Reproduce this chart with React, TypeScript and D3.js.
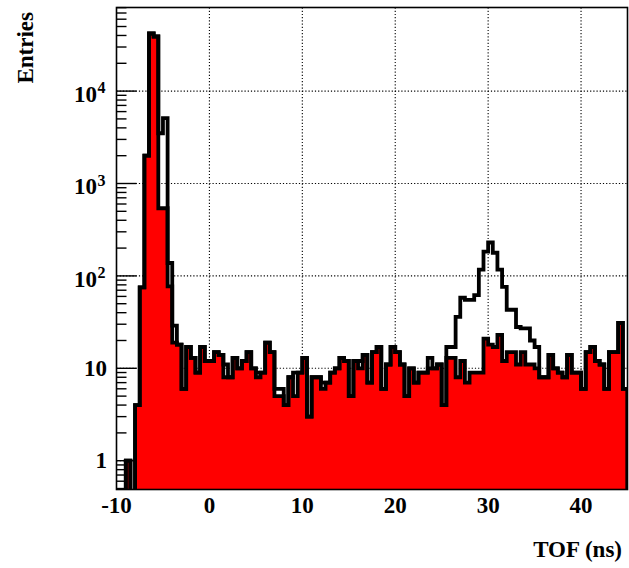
import React from 'react';
import * as d3 from 'd3';

// Time-of-flight histogram: 0.5 ns bins starting at -10 ns
const binStart = -10;
const binWidth = 0.5;

// All entries (black outline)
const allCounts = [
  0, 0, 1, 0, 4, 75, 2000, 42000, 39000, 3500,
  5100, 138, 29, 18, 6, 17, 13, 9, 17, 12,
  12, 15, 14, 11, 8, 13, 10, 12, 15, 10,
  9, 9, 19, 15, 6, 6, 4, 8, 9, 9,
  13, 3, 8, 8, 7, 7, 9, 10, 13, 12,
  5, 12, 12, 14, 7, 15, 17, 6, 11, 17,
  15, 11, 5, 10, 7, 9, 9, 13, 10, 11,
  4, 17, 17, 36, 58, 55, 55, 62, 117, 183,
  230, 178, 117, 76, 43, 43, 28, 27, 27, 20,
  17, 8, 8, 14, 10, 9, 8, 14, 9, 9,
  6, 15, 17, 12, 11, 6, 15, 15, 31, 6,
];

// Selected entries (red filled)
const selectedCounts = [
  0, 0, 1, 0, 4, 75, 2000, 42000, 39000, 540,
  540, 77, 19, 18, 6, 17, 13, 9, 17, 12,
  12, 15, 14, 8, 8, 13, 10, 12, 15, 10,
  8, 9, 19, 15, 5, 5, 4, 8, 5, 9,
  13, 3, 8, 8, 6, 7, 9, 10, 13, 12,
  5, 12, 10, 14, 7, 15, 17, 6, 11, 17,
  15, 11, 5, 10, 7, 9, 9, 10, 10, 11,
  4, 13, 13, 8, 12, 7, 9, 9, 9, 21,
  18, 17, 23, 12, 15, 15, 11, 15, 11, 11,
  10, 8, 8, 14, 10, 9, 8, 14, 9, 9,
  6, 15, 17, 12, 11, 6, 15, 15, 31, 6,
];

const xDomain = [-10, 45];
const yDomain = [0.488, 80300];
const xTickValues = [-10, 0, 10, 20, 30, 40];
const xGridValues = [0, 10, 20, 30, 40];
const yTickValues = [1, 10, 100, 1000, 10000];
const yTickBases = ['1', '10', '10', '10', '10'];
const yTickExponents = ['', '', '2', '3', '4'];

const W = 629;
const H = 568;
const left = 116.5;
const right = 627.5;
const top = 7.5;
const bottom = 489.5;
const FONT = "'Liberation Serif', 'Times New Roman', serif";
const HIST_LINE = 3.8;

export default function App() {
  const x = d3.scaleLinear().domain(xDomain).range([left, right]);
  const y = d3.scaleLog().domain(yDomain).range([bottom, top]);
  const floorY = bottom + 8;

  const stepPoints = (counts: number[]): [number, number][] => {
    const pts: [number, number][] = [[x(binStart), floorY]];
    counts.forEach((c, i) => {
      const yv = c > 0 ? y(c) : floorY;
      pts.push([x(binStart + i * binWidth), yv]);
      pts.push([x(binStart + (i + 1) * binWidth), yv]);
    });
    pts.push([x(binStart + counts.length * binWidth), floorY]);
    return pts;
  };

  const line = d3.line<[number, number]>();
  const area = d3
    .area<[number, number]>()
    .x((d) => d[0])
    .y1((d) => d[1])
    .y0(floorY);

  const selPts = stepPoints(selectedCounts);
  const allPts = stepPoints(allCounts);

  const minorTicks: number[] = [];
  for (let e = -1; e <= 4; e++) {
    for (let m = 2; m <= 9; m++) {
      const v = m * Math.pow(10, e);
      if (v >= yDomain[0] && v <= yDomain[1]) minorTicks.push(v);
    }
  }

  return (
    <svg
      width={W}
      height={H}
      viewBox={`0 0 ${W} ${H}`}
      style={{ position: 'absolute', left: 0, top: 0, background: '#fff' }}
    >
      <defs>
        <clipPath id="plotClip">
          <rect x={left} y={top} width={right - left} height={bottom - top} />
        </clipPath>
      </defs>
      <rect x={0} y={0} width={W} height={H} fill="#fff" />

      {/* dotted grid */}
      <g stroke="#000" strokeWidth={1.1} strokeDasharray="1.2 2">
        {xGridValues.map((v) => (
          <line key={`gx${v}`} x1={x(v)} x2={x(v)} y1={top} y2={bottom} />
        ))}
        {yTickValues.map((v) => (
          <line key={`gy${v}`} x1={left} x2={right} y1={y(v)} y2={y(v)} />
        ))}
      </g>

      {/* y axis ticks */}
      <g stroke="#000" strokeWidth={1.4}>
        {yTickValues.map((v) => (
          <line key={`ty${v}`} x1={left} x2={left + 20} y1={y(v)} y2={y(v)} />
        ))}
        {minorTicks.map((v) => (
          <line key={`tm${v}`} x1={left} x2={left + 10} y1={y(v)} y2={y(v)} />
        ))}
      </g>

      {/* histograms */}
      <g clipPath="url(#plotClip)">
        <path d={area(selPts) || ''} fill="#ff0000" stroke="none" />
        <path
          d={line(selPts) || ''}
          fill="none"
          stroke="#000"
          strokeWidth={HIST_LINE}
          strokeLinejoin="miter"
        />
        <path
          d={line(allPts) || ''}
          fill="none"
          stroke="#000"
          strokeWidth={HIST_LINE}
          strokeLinejoin="miter"
        />
      </g>

      {/* frame */}
      <rect
        x={left}
        y={top}
        width={right - left}
        height={bottom - top}
        fill="none"
        stroke="#000"
        strokeWidth={1.6}
      />

      {/* x tick labels */}
      <g fontFamily={FONT} fontWeight="bold" fontSize={23} fill="#000" textAnchor="middle">
        {xTickValues.map((v) => (
          <text key={`lx${v}`} x={x(v)} y={513}>
            {String(v)}
          </text>
        ))}
      </g>

      {/* y tick labels */}
      <g fontFamily={FONT} fontWeight="bold" fill="#000">
        {yTickValues.map((v, i) =>
          yTickExponents[i] === '' ? (
            <text key={`ly${v}`} x={107} y={y(v) + 7.5} fontSize={23} textAnchor="end">
              {yTickBases[i]}
            </text>
          ) : (
            <g key={`ly${v}`}>
              <text x={97} y={y(v) + 10.8} fontSize={23} textAnchor="end">
                {yTickBases[i]}
              </text>
              <text x={97.5} y={y(v) + 2} fontSize={16} textAnchor="start">
                {yTickExponents[i]}
              </text>
            </g>
          )
        )}
      </g>

      {/* axis titles */}
      <text
        x={622}
        y={557}
        fontFamily={FONT}
        fontWeight="bold"
        fontSize={23}
        textAnchor="end"
        fill="#000"
      >
        TOF (ns)
      </text>
      <text
        transform="translate(33,12) rotate(-90)"
        fontFamily={FONT}
        fontWeight="bold"
        fontSize={23}
        textAnchor="end"
        fill="#000"
      >
        Entries
      </text>
    </svg>
  );
}
